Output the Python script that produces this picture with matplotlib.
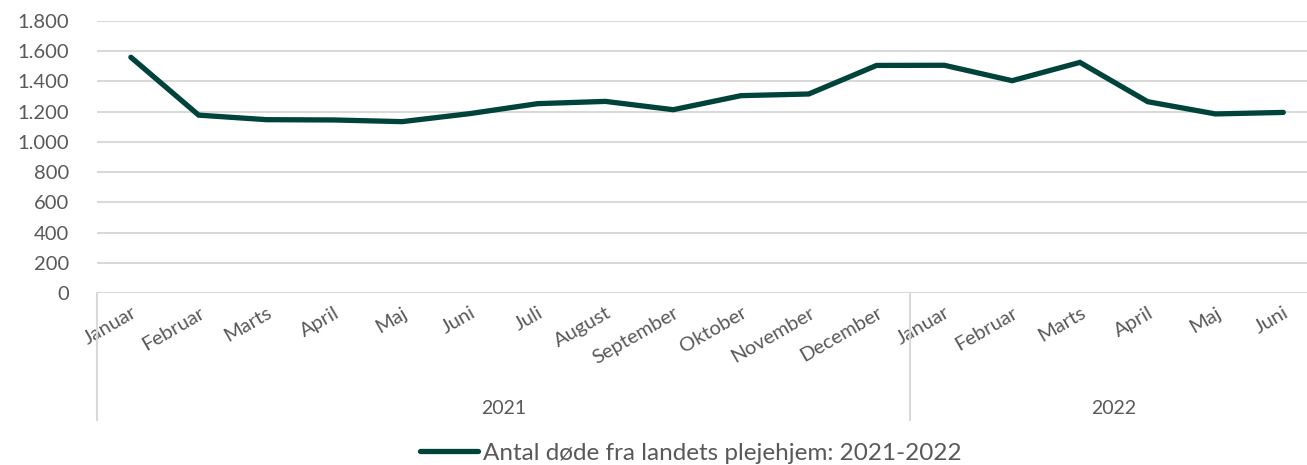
import matplotlib
matplotlib.use("Agg")
import matplotlib.pyplot as plt
from matplotlib.lines import Line2D
import matplotlib.transforms as mtransforms

# data
months = ["Januar", "Februar", "Marts", "April", "Maj", "Juni", "Juli", "August",
          "September", "Oktober", "November", "December",
          "Januar", "Februar", "Marts", "April", "Maj", "Juni"]
years = ["2021", "2022"]
year_counts = [12, 6]
deaths = [1560, 1177, 1147, 1145, 1134, 1187, 1253, 1268, 1213, 1306, 1317, 1506,
          1507, 1405, 1526, 1266, 1185, 1195]
series_name = "Antal døde fra landets plejehjem: 2021-2022"

plt.rcParams['font.family'] = ['Lato', 'DejaVu Sans']
txt_col = '#595959'
grid_col = '#d9d9d9'
line_col = '#00433a'

fig = plt.figure(figsize=(13.07, 4.65), dpi=100)
ax = fig.add_axes([97 / 1307, 172 / 465, 1210 / 1307, 272 / 465])

x = list(range(len(months)))
ax.plot(x, deaths, color=line_col, lw=3.8, solid_capstyle='round',
        solid_joinstyle='miter', label=series_name, zorder=3)

ax.set_ylim(0, 1800)
ax.set_xlim(-0.5, 17.35)
ax.set_yticks(range(0, 1801, 200))
ax.set_yticklabels([f"{v:,}".replace(",", ".") for v in range(0, 1801, 200)])
ax.yaxis.grid(True, color=grid_col, lw=1.5)
ax.set_axisbelow(True)
for s in ax.spines.values():
    s.set_visible(False)
ax.axhline(0, color=grid_col, lw=1.8, zorder=1)
ax.tick_params(axis='y', length=0, labelsize=14.5, labelcolor=txt_col, pad=20)
ax.tick_params(axis='x', length=0, labelsize=14.5, labelcolor=txt_col, pad=8)
ax.set_xticks(x)
ax.set_xticklabels(months, rotation=30, ha='right', rotation_mode='anchor')

# multi-level category axis: separators and year labels
trans = mtransforms.blended_transform_factory(ax.transData, ax.transAxes)
bounds = [-0.5]
for c in year_counts:
    bounds.append(bounds[-1] + c)
for b in bounds[:-1]:
    ax.add_line(Line2D([b, b], [0, -0.467], transform=trans, color=grid_col,
                       lw=1.5, clip_on=False))
start = 0
for yr, c in zip(years, year_counts):
    ax.text(start + (c - 1) / 2, -0.426, yr, transform=trans, ha='center',
            va='center', fontsize=14, color=txt_col)
    start += c

ax.legend(loc='center', bbox_to_anchor=(691 / 1307, 12 / 465),
          bbox_transform=fig.transFigure, frameon=False, fontsize=17.5,
          handlelength=2.4, handletextpad=0.2, labelcolor=txt_col)

fig.savefig("out.png", dpi=100)
